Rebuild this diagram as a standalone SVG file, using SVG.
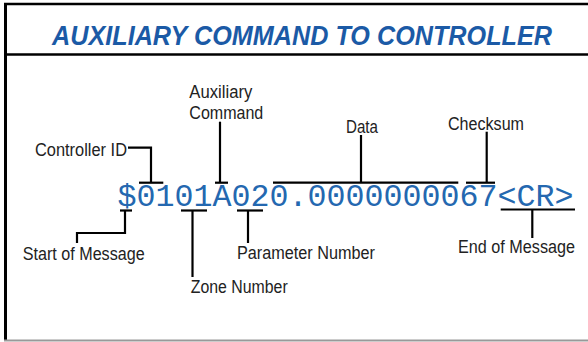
<svg xmlns="http://www.w3.org/2000/svg" width="588" height="342" viewBox="0 0 588 342">
<style>
.lbl{font-family:"Liberation Sans Narrow","Liberation Sans",Arial,sans-serif;font-size:17.5px;fill:#222;}
.title{font-family:"Liberation Sans Narrow","Liberation Sans",Arial,sans-serif;font-size:27px;font-style:italic;font-weight:bold;fill:#1b5aa6;}
.msg{font-family:"Liberation Mono","Courier New",monospace;font-size:31.7px;fill:#2468b0;}
.c{stroke:#000;stroke-width:2.2;fill:none;}
</style>
<rect x="0" y="0" width="588" height="342" fill="#fff"/>
<g id="frame">
<line x1="4" y1="4" x2="588" y2="4" stroke="#000" stroke-width="2.5"/>
<line x1="5.5" y1="3" x2="5.5" y2="341" stroke="#000" stroke-width="3"/>
<line x1="4" y1="54.5" x2="588" y2="54.5" stroke="#000" stroke-width="2.5"/>
<line x1="4" y1="340.5" x2="588" y2="340.5" stroke="#999" stroke-width="2"/>
</g>
<g id="title"><text class="title" x="52" y="45" textLength="500" lengthAdjust="spacingAndGlyphs">AUXILIARY COMMAND TO CONTROLLER</text></g>
<g id="message"><text class="msg" x="117.5" y="206" textLength="456" lengthAdjust="spacingAndGlyphs">$0101A020.0000000067&lt;CR&gt;</text></g>
<g id="controller-id"><text class="lbl" x="35" y="156" textLength="92" lengthAdjust="spacingAndGlyphs">Controller ID</text></g>
<g id="auxiliary-command"><text class="lbl" x="189.3" y="98" textLength="63" lengthAdjust="spacingAndGlyphs">Auxiliary</text><text class="lbl" x="189.3" y="119" textLength="74" lengthAdjust="spacingAndGlyphs">Command</text></g>
<g id="data"><text class="lbl" x="346" y="133" textLength="32" lengthAdjust="spacingAndGlyphs">Data</text></g>
<g id="checksum"><text class="lbl" x="448" y="130" textLength="76" lengthAdjust="spacingAndGlyphs">Checksum</text></g>
<g id="start-of-message"><text class="lbl" x="22.7" y="260" textLength="122" lengthAdjust="spacingAndGlyphs">Start of Message</text></g>
<g id="zone-number"><text class="lbl" x="190.7" y="293" textLength="97" lengthAdjust="spacingAndGlyphs">Zone Number</text></g>
<g id="parameter-number"><text class="lbl" x="237" y="259" textLength="138" lengthAdjust="spacingAndGlyphs">Parameter Number</text></g>
<g id="end-of-message"><text class="lbl" x="458" y="253" textLength="117" lengthAdjust="spacingAndGlyphs">End of Message</text></g>
<g id="connectors">
<polyline class="c" points="128,147.7 151,147.7 151,182.7"/>
<line class="c" x1="139" y1="182.7" x2="163.3" y2="182.7"/>
<line class="c" x1="220" y1="121.7" x2="220" y2="182.7"/>
<line class="c" x1="215" y1="182.7" x2="228" y2="182.7"/>
<line class="c" x1="361" y1="135" x2="361" y2="182.7"/>
<line class="c" x1="273" y1="182.7" x2="458.3" y2="182.7"/>
<line class="c" x1="486.7" y1="131.7" x2="486.7" y2="182.7"/>
<line class="c" x1="466" y1="182.7" x2="495" y2="182.7"/>
<line class="c" x1="120" y1="210.5" x2="132" y2="210.5"/>
<polyline class="c" points="125,210.5 125,233 77,233 77,243"/>
<line class="c" x1="181" y1="210.5" x2="207" y2="210.5"/>
<line class="c" x1="192.5" y1="210.5" x2="192.5" y2="277"/>
<line class="c" x1="237" y1="210.5" x2="263" y2="210.5"/>
<line class="c" x1="248" y1="210.5" x2="248" y2="243"/>
<line class="c" x1="500.7" y1="209.5" x2="575" y2="209.5"/>
<line class="c" x1="532.3" y1="209.5" x2="532.3" y2="238"/>
</g>
</svg>
